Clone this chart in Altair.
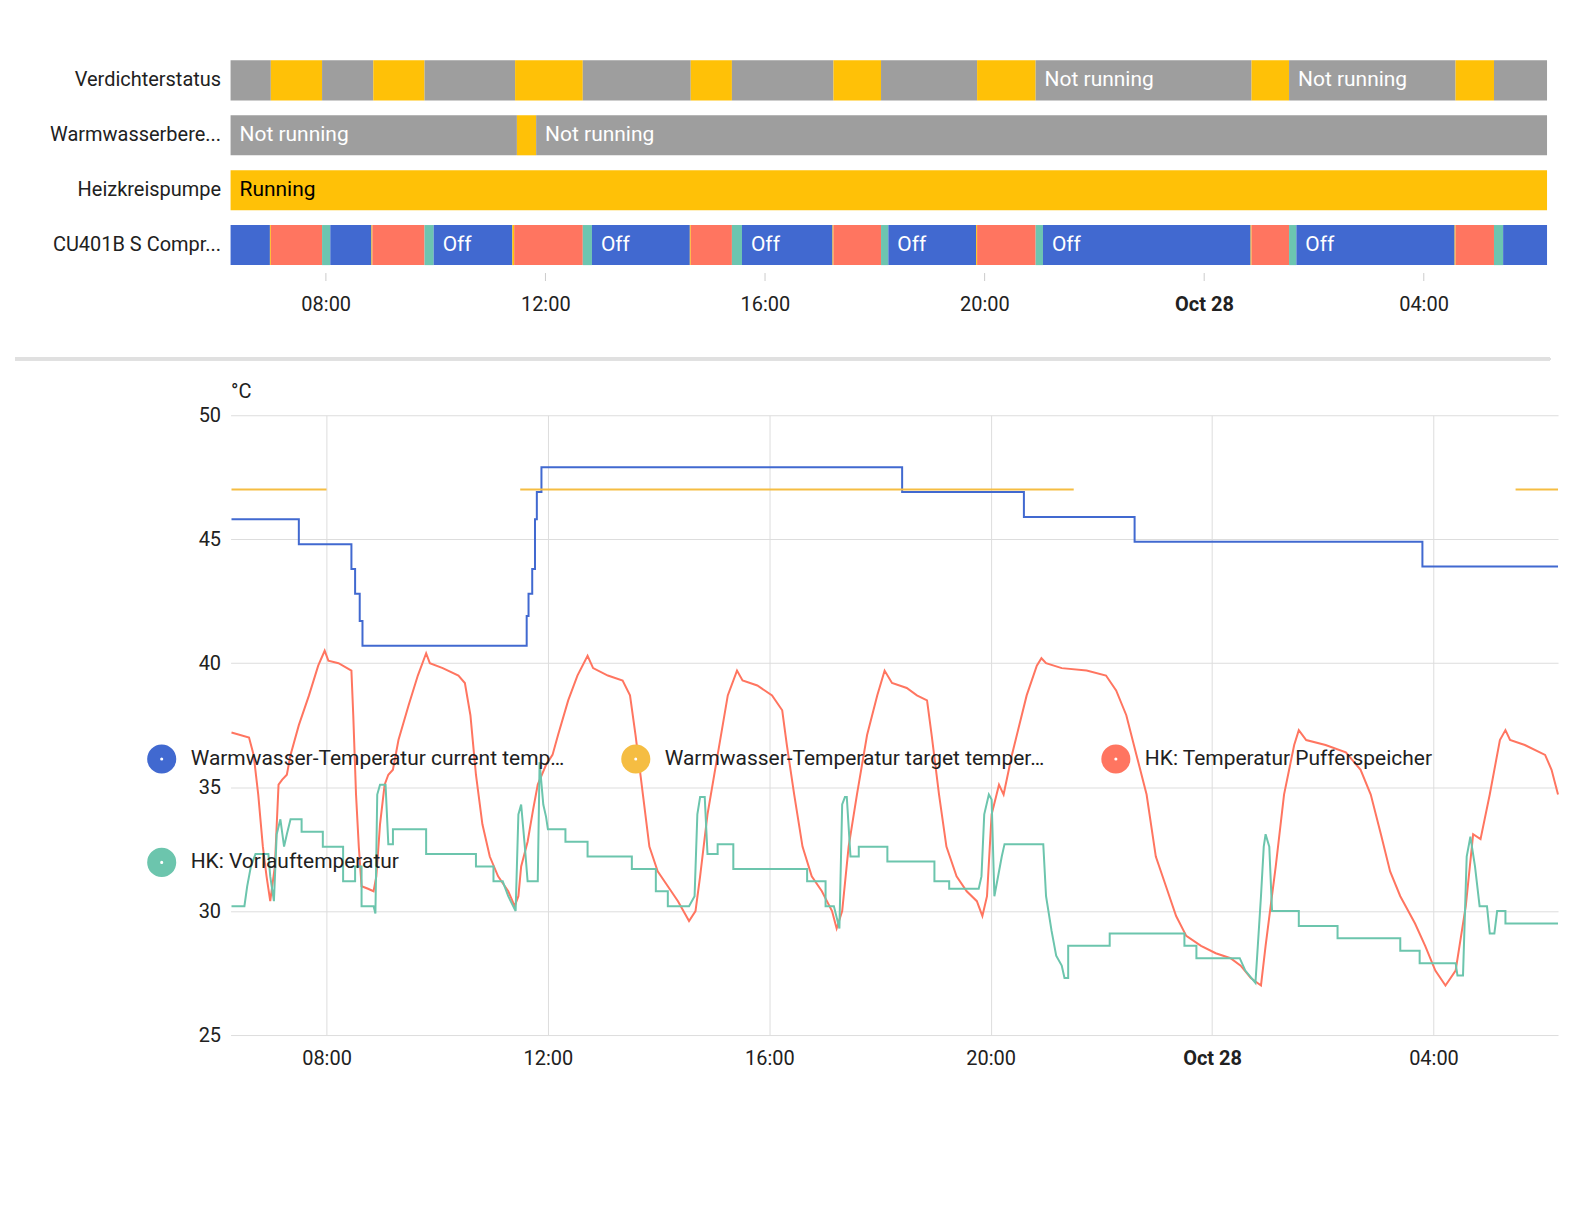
import altair as alt
import pandas as pd

BASE = pd.Timestamp("2023-10-27 00:00")
START, END = 376, 1815  # minutes after midnight Oct 27

def ts(m):
    return (BASE + pd.Timedelta(minutes=m)).strftime("%Y-%m-%dT%H:%M:%S")

GRAY, YEL, BLUE, RED, GREEN = "#9e9e9e", "#ffc107", "#4169d0", "#ff7560", "#6cc5b0"

rows = ["Verdichterstatus", "Warmwasserbere...", "Heizkreispumpe", "CU401B S Compr..."]

verd_bounds = [376, 420, 476, 532, 588, 687, 761, 879, 924, 1035, 1087, 1192, 1256, 1492, 1533, 1715, 1757, 1815]
verd_labels = {12: "Not running", 14: "Not running"}
ww_segs = [(376, 689, GRAY, "Not running"), (689, 710, YEL, ""), (710, 1815, GRAY, "Not running")]
hk_segs = [(376, 1815, YEL, "Running")]
cu_segs = [
    (376, 419, BLUE, ""), (419, 420, YEL, ""), (420, 476, RED, ""), (476, 485, GREEN, ""),
    (485, 530, BLUE, ""), (530, 531, YEL, ""), (531, 588, RED, ""), (588, 598, GREEN, ""),
    (598, 684, BLUE, "Off"), (684, 686, YEL, ""), (686, 761, RED, ""), (761, 771, GREEN, ""),
    (771, 878, BLUE, "Off"), (878, 879, YEL, ""), (879, 924, RED, ""), (924, 935, GREEN, ""),
    (935, 1034, BLUE, "Off"), (1034, 1035, YEL, ""), (1035, 1087, RED, ""), (1087, 1095, GREEN, ""),
    (1095, 1191, BLUE, "Off"), (1191, 1192, YEL, ""), (1192, 1256, RED, ""), (1256, 1264, GREEN, ""),
    (1264, 1491, BLUE, "Off"), (1491, 1492, YEL, ""), (1492, 1533, RED, ""), (1533, 1541, GREEN, ""),
    (1541, 1714, BLUE, "Off"), (1714, 1715, YEL, ""), (1715, 1757, RED, ""), (1757, 1767, GREEN, ""),
    (1767, 1815, BLUE, ""),
]

tl = []
for i in range(len(verd_bounds) - 1):
    tl.append(dict(row=rows[0], s=ts(verd_bounds[i]), e=ts(verd_bounds[i + 1]),
                   c=GRAY if i % 2 == 0 else YEL, lab=verd_labels.get(i, ""), tc="white"))
for s, e, c, l in ww_segs:
    tl.append(dict(row=rows[1], s=ts(s), e=ts(e), c=c, lab=l, tc="white"))
for s, e, c, l in hk_segs:
    tl.append(dict(row=rows[2], s=ts(s), e=ts(e), c=c, lab=l, tc="black"))
for s, e, c, l in cu_segs:
    tl.append(dict(row=rows[3], s=ts(s), e=ts(e), c=c, lab=l, tc="white"))
tl_df = pd.DataFrame(tl)

S_CUR = "Warmwasser-Temperatur current temperature"
S_TGT = "Warmwasser-Temperatur target temperature"
S_PUF = "HK: Temperatur Pufferspeicher"
S_VOR = "HK: Vorlauftemperatur"

cur_t = [377, 450, 507, 511, 516, 519, 697, 699, 703, 706, 708, 713, 1104, 1236, 1356, 1668, 1815]
cur_v = [45.8, 44.8, 43.8, 42.8, 41.7, 40.7, 41.9, 42.8, 43.8, 45.8, 46.9, 47.9, 46.9, 45.9, 44.9, 43.9, 43.9]

tgt_segments = [(377, 480), (690, 1290), (1769, 1815)]
tgt_value = 47.0

puf = [(377,37.2),(396,37.0),(401,36.3),(406,34.7),(411,32.6),(415,31.4),(419,30.4),(424,31.8),(428,35.1),(432,35.3),
(437,35.5),(441,36.3),(450,37.5),(461,38.7),(471,39.9),(478,40.5),(482,40.1),(493,40.0),(507,39.7),(509,37.9),
(512,34.7),(515,32.6),(518,31.0),(525,30.9),(531,30.8),(534,31.4),(538,33.5),(543,35.1),(547,35.5),(552,35.7),
(558,36.9),(569,38.3),(579,39.5),(588,40.4),(592,40.0),(606,39.8),(623,39.5),(630,39.2),(636,37.9),(642,35.5),
(649,33.5),(657,32.2),(666,31.4),(677,30.8),(684,30.2),(688,30.6),(691,31.8),(698,32.8),(704,34.1),(709,35.1),
(718,35.9),(725,36.3),(731,37.1),(742,38.5),(752,39.5),(763,40.3),(769,39.8),(785,39.5),(801,39.3),(809,38.7),
(815,37.1),(823,34.7),(830,32.6),(839,31.6),(850,31.0),(861,30.4),(873,29.6),(880,30.0),(885,31.4),(893,33.9),
(904,36.3),(915,38.7),(925,39.7),(931,39.3),(947,39.1),(963,38.7),(974,38.1),(979,36.7),(987,34.7),(996,32.6),
(1006,31.4),(1017,30.8),(1028,30.0),(1033,29.3),(1039,30.0),(1046,32.6),(1055,34.7),(1066,37.1),(1077,38.7),(1085,39.7),
(1093,39.2),(1109,39.0),(1120,38.7),(1131,38.5),(1136,37.1),(1144,34.7),(1152,32.6),(1163,31.4),(1174,30.8),(1185,30.4),
(1191,29.8),(1196,30.6),(1201,33.9),(1209,35.1),(1214,34.7),(1223,36.3),(1239,38.7),(1250,39.9),(1255,40.2),(1260,40.0),
(1277,39.8),(1304,39.7),(1325,39.5),(1336,38.9),(1347,37.9),(1358,36.3),(1369,34.7),(1379,32.2),(1390,31.0),(1401,29.8),
(1412,29.0),(1428,28.6),(1444,28.3),(1460,28.1),(1471,27.8),(1482,27.3),(1493,27.0),(1498,28.6),(1509,31.8),(1518,34.7),
(1529,36.7),(1534,37.3),(1542,36.9),(1563,36.7),(1585,36.4),(1601,35.7),(1612,34.7),(1623,33.1),(1633,31.6),(1644,30.6),
(1660,29.5),(1671,28.6),(1682,27.6),(1693,27.0),(1704,27.6),(1715,30.2),(1723,33.1),(1731,32.9),(1741,34.7),(1752,36.9),
(1758,37.3),(1763,36.9),(1779,36.7),(1801,36.3),(1808,35.7),(1815,34.7)]

vor = [(377,30.2),(391,30.2),(394,31.0),(398,31.8),(403,32.3),(417,32.3),(419,31.4),(423,30.4),(426,33.1),(430,33.7),
(434,32.6),(437,33.1),(441,33.7),(453,33.7),(453,33.2),(476,33.2),(476,32.6),(498,32.6),(498,31.2),(511,31.2),
(511,31.8),(518,31.8),(518,30.2),(531,30.2),(533,29.9),(535,34.7),(538,35.1),(544,35.1),(547,32.7),(552,32.7),
(552,33.3),(588,33.3),(588,32.3),(642,32.3),(642,31.8),(661,31.8),(661,31.2),(671,31.2),(677,30.6),(685,30.0),
(688,33.9),(691,34.3),(695,32.6),(698,31.2),(709,31.2),(711,36.0),(715,34.3),(718,33.8),(720,33.3),(739,33.3),
(739,32.8),(763,32.8),(763,32.2),(811,32.2),(811,31.7),(837,31.7),(837,30.8),(850,30.8),(850,30.2),(873,30.2),
(879,30.6),(882,33.9),(885,34.6),(890,34.6),(893,32.3),(904,32.3),(904,32.7),(921,32.7),(921,31.7),(1001,31.7),
(1001,31.2),(1021,31.2),(1021,30.2),(1030,30.2),(1036,29.3),(1039,34.3),(1042,34.6),(1044,34.6),(1048,32.2),(1057,32.2),
(1057,32.6),(1088,32.6),(1088,32.0),(1139,32.0),(1139,31.2),(1155,31.2),(1155,30.9),(1187,30.9),(1190,31.4),(1193,33.9),
(1198,34.7),(1201,34.5),(1204,30.6),(1210,31.8),(1212,32.2),(1215,32.7),(1257,32.7),(1260,30.6),(1266,29.2),(1271,28.2),
(1277,27.8),(1280,27.3),(1284,27.3),(1284,28.6),(1329,28.6),(1329,29.1),(1410,29.1),(1410,28.6),(1423,28.6),(1423,28.1),
(1470,28.1),(1476,27.6),(1487,27.1),(1493,30.6),(1496,32.6),(1498,33.1),(1502,32.6),(1505,30.0),(1534,30.0),(1534,29.4),
(1576,29.4),(1576,28.9),(1644,28.9),(1644,28.4),(1665,28.4),(1665,27.9),(1704,27.9),(1706,27.4),(1712,27.4),(1716,32.2),
(1720,33.0),(1725,31.8),(1730,30.2),(1738,30.2),(1741,29.1),(1746,29.1),(1749,30.0),(1758,30.0),(1758,29.5),(1815,29.5)]

cur_df = pd.DataFrame(dict(t=[ts(m) for m in cur_t], v=cur_v, s=S_CUR, seg=0, o=range(len(cur_t))))
tg = []
for k, (a, b) in enumerate(tgt_segments):
    tg += [dict(t=ts(a), v=tgt_value, s=S_TGT, seg=k, o=2 * k), dict(t=ts(b), v=tgt_value, s=S_TGT, seg=k, o=2 * k + 1)]
tgt_df = pd.DataFrame(tg)
oth_df = pd.concat([
    pd.DataFrame(dict(t=[ts(m) for m, _ in puf], v=[v for _, v in puf], s=S_PUF, seg=0, o=range(len(puf)))),
    pd.DataFrame(dict(t=[ts(m) for m, _ in vor], v=[v for _, v in vor], s=S_VOR, seg=0, o=range(len(vor)))),
])

FONT = "Roboto"
xdom = [ts(START), ts(END)]
tick_vals = [alt.DateTime(year=2023, month=10, date=27, hours=h) for h in (8, 12, 16, 20)] + \
            [alt.DateTime(year=2023, month=10, date=28, hours=h) for h in (0, 4)]
label_expr = "hours(datum.value) == 0 ? timeFormat(datum.value, '%b %d') : timeFormat(datum.value, '%H:%M')"
weight_expr = alt.ExprRef("hours(datum.value) == 0 ? 'bold' : 'normal'")

xt = alt.X("s:T", scale=alt.Scale(domain=xdom), title=None,
           axis=alt.Axis(values=tick_vals, labelExpr=label_expr, labelFontWeight=weight_expr,
                         grid=False, domain=False, tickColor="#cccccc", tickSize=8,
                         labelFontSize=20, labelPadding=14, labelColor="#212121"))
yt = alt.Y("row:N", sort=rows, title=None,
           scale=alt.Scale(paddingInner=0.27, paddingOuter=0.135),
           axis=alt.Axis(domain=False, ticks=False, labelFontSize=20, labelColor="#212121",
                         labelPadding=10, labelLimit=260))
bars = alt.Chart(tl_df).mark_bar(cornerRadius=0).encode(x=xt, x2="e:T", y=yt, color=alt.Color("c:N", scale=None))
texts = alt.Chart(tl_df).mark_text(align="left", dx=9, fontSize=21, font=FONT).encode(
    x="s:T", y=alt.Y("row:N", sort=rows), text="lab:N", color=alt.Color("tc:N", scale=None))
divider = alt.Chart(tl_df).mark_rule(color="#e0e0e0", strokeWidth=3).encode(
    x=alt.value(-216), x2=alt.value(1322), y=alt.value(307))
top = alt.layer(bars, texts, divider).properties(width=1319, height=220)

colors = [BLUE, "#f5bd42", "#ff7560", "#6cc5ad"]
cscale = alt.Scale(domain=[S_CUR, S_TGT, S_PUF, S_VOR], range=colors)
xb = alt.X("t:T", scale=alt.Scale(domain=xdom), title=None,
           axis=alt.Axis(values=tick_vals, labelExpr=label_expr, labelFontWeight=weight_expr,
                         gridColor="#dddddd", domain=False, ticks=False, labelFontSize=20,
                         labelPadding=14, labelColor="#212121"))
yb = alt.Y("v:Q", scale=alt.Scale(domain=[25, 50]), title="°C",
           axis=alt.Axis(values=[25, 30, 35, 40, 45, 50], gridColor="#dddddd", domain=False, ticks=False,
                         labelFontSize=20, labelColor="#212121", labelPadding=10,
                         titleAngle=0, titleAlign="left", titleBaseline="bottom", titleX=0, titleY=-14,
                         titleFontSize=20, titleFontWeight="normal", titleColor="#212121"))
col = alt.Color("s:N", scale=cscale, title=None,
                legend=alt.Legend(orient="none", legendX=-84, legendY=692, direction="horizontal", columns=3,
                                  symbolType="circle", symbolSize=260, symbolStrokeWidth=13,
                                  labelFontSize=21, labelLimit=382, labelOffset=14,
                                  labelColor="#212121", columnPadding=36, rowPadding=34, symbolOpacity=1))
l_cur = alt.Chart(cur_df).mark_line(interpolate="step-after", strokeWidth=2).encode(x=xb, y=yb, color=col, order="o:Q")
l_tgt = alt.Chart(tgt_df).mark_line(strokeWidth=2).encode(x=xb, y=yb, color=col, detail="seg:N", order="o:Q")
l_oth = alt.Chart(oth_df).mark_line(strokeWidth=2).encode(x=xb, y=yb, color=col, detail="s:N", order="o:Q")
bottom = alt.layer(l_cur, l_tgt, l_oth).properties(width=1330, height=621)

chart = alt.vconcat(top, bottom, spacing=20).configure(font=FONT).configure_view(stroke=None) \
    .properties(padding={"left": 5, "top": 44, "right": 5, "bottom": 5})
chart.save("out.html", embed_options={"renderer": "svg", "actions": False})
